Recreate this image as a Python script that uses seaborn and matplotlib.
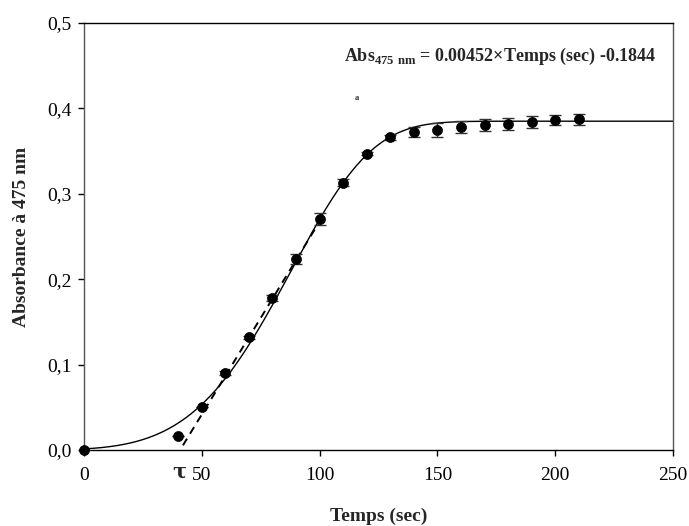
import numpy as np
import pandas as pd
import matplotlib
matplotlib.use('Agg')
import matplotlib.pyplot as plt
import matplotlib.transforms as mtransforms
import seaborn as sns

# measured points
temps = [0, 40, 50, 60, 70, 80, 90, 100, 110, 120, 130, 140, 150, 160, 170, 180, 190, 200, 210]
absorb = [0.0, 0.016, 0.050, 0.090, 0.132, 0.178, 0.224, 0.270, 0.313, 0.347, 0.366, 0.372,
          0.375, 0.378, 0.380, 0.382, 0.384, 0.386, 0.387]
err = [0, 0, 0, 0.002, 0.002, 0.004, 0.006, 0.007, 0.004, 0.002, 0.003, 0.006,
       0.008, 0.007, 0.007, 0.007, 0.007, 0.006, 0.007]

# fitted curve, weibull type: a*(1-exp(-((x-x0)/b)^c))
fit_a, fit_x0, fit_b, fit_c = 0.385, -41.5, 136.0, 4.8
# tangent line
slope, intercept = 0.00452, -0.1844
tan_x = [42, 100]

sns.set_theme(style="ticks")
plt.rcParams['font.family'] = ['Liberation Serif', 'DejaVu Serif']
plt.rcParams['mathtext.fontset'] = 'custom'
plt.rcParams['mathtext.rm'] = 'Liberation Serif'
plt.rcParams['mathtext.bf'] = 'Liberation Serif:bold'

fig = plt.figure(figsize=(6.89, 5.26), dpi=100)
ax = fig.add_axes([0.1219, 0.1445, 0.8549, 0.8118])

xs = np.linspace(0, 250, 500)
fit = pd.DataFrame({'x': xs, 'y': fit_a * (1 - np.exp(-((xs - fit_x0) / fit_b) ** fit_c))})
sns.lineplot(data=fit, x='x', y='y', ax=ax, color='black', lw=1.0)

tan = pd.DataFrame({'x': tan_x, 'y': [slope * v + intercept for v in tan_x]})
sns.lineplot(data=tan, x='x', y='y', ax=ax, color='black', lw=1.4, linestyle=(0, (4, 3)))

ax.errorbar(temps, absorb, yerr=err, fmt='none', ecolor='#333333', elinewidth=1,
            capsize=4.5, capthick=1, zorder=3)
pts = pd.DataFrame({'t': temps, 'a': absorb})
sns.scatterplot(data=pts, x='t', y='a', ax=ax, color='black', s=52, edgecolor='black',
                linewidth=0.5, zorder=4, clip_on=False)

ax.set_xlim(0, 250)
ax.set_ylim(0, 0.5)
ax.set_xticks([0, 50, 100, 150, 200, 250])
ax.set_yticks([0, 0.1, 0.2, 0.3, 0.4, 0.5])
ax.set_yticklabels(['0,0', '0,1', '0,2', '0,3', '0,4', '0,5'])
ax.tick_params(direction='out', length=4, width=1, labelsize=14, colors='black', pad=5)
ax.tick_params(axis='x', pad=8)
for side in ['top', 'bottom']:
    ax.spines[side].set_color('black')
for side in ['left', 'right']:
    ax.spines[side].set_color('#555555')
for sp in ax.spines.values():
    sp.set_linewidth(1)

ax.set_xlabel('Temps (sec)', fontsize=14, fontweight='bold', labelpad=17)
ax.set_ylabel('Absorbance à 475 nm', fontsize=14, fontweight='bold', labelpad=12)

ax.text(243, 0.4605, r'Abs$_{\mathbf{475\ nm}}$ = 0.00452×Temps (sec) -0.1844',
        ha='right', va='center', fontsize=13, fontweight='bold')
ax.text(115.7, 0.412, 'a', ha='center', va='center', fontsize=6, fontweight='bold')

trans = mtransforms.blended_transform_factory(ax.transData, ax.transAxes)
ax.text(40.5, -0.05, 'τ', transform=trans, ha='center', va='center', fontsize=15,
        fontweight='bold', family=['DejaVu Serif'])

fig.savefig('out.png', dpi=100)
